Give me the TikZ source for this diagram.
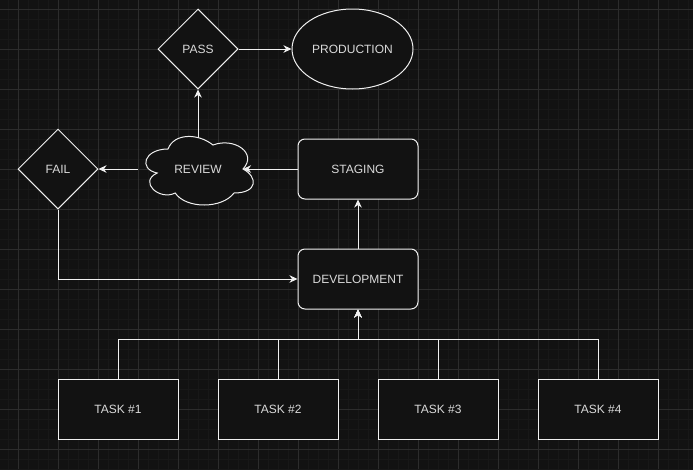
\documentclass[tikz,border=0pt]{standalone}
\usepackage{fontspec}
\setmainfont{Liberation Sans}
\usetikzlibrary{arrows.meta,shapes.geometric}
\definecolor{bg}{HTML}{121212}
\definecolor{gridminor}{HTML}{181818}
\definecolor{gridmajor}{HTML}{2C2C2C}
\definecolor{strokec}{HTML}{F0F0F0}
\definecolor{textc}{HTML}{DADADA}
\tikzset{
  base/.style={draw=strokec, line width=1pt, fill=bg, text=textc, inner sep=0pt, font=\fontsize{12}{14}\selectfont},
  box/.style={base, rectangle, minimum width=120pt, minimum height=60pt},
  rbox/.style={box, rounded corners=7pt},
  dia/.style={base, diamond, minimum width=80pt, minimum height=80pt},
  ell/.style={base, ellipse, minimum width=121pt, minimum height=80pt},
  txt/.style={text=textc, inner sep=0pt, font=\fontsize{12}{14}\selectfont},
  conn/.style={draw=strokec, line width=1pt},
  arr/.style={conn, -{Stealth[length=8pt,width=7.5pt,inset=2.5pt]}},
}
\begin{document}
\begin{tikzpicture}[x=1pt,y=-1pt]
\useasboundingbox (0,0) rectangle (693,469);
\fill[bg] (0,0) rectangle (693,469);
\foreach \x in {8,18,...,688} \draw[gridminor, line width=0.7pt] (\x,0) -- (\x,469);
\foreach \y in {9,19,...,469} \draw[gridminor, line width=0.7pt] (0,\y) -- (693,\y);
\foreach \x in {18,58,...,658} \draw[gridmajor, line width=0.9pt] (\x,0) -- (\x,469);
\foreach \y in {9,49,...,449} \draw[gridmajor, line width=0.9pt] (0,\y) -- (693,\y);

% nodes
\node[dia] (pass) at (198,49) {PASS};
\node[ell] (prod) at (352.5,49) {PRODUCTION};
\node[dia] (fail) at (58,169) {FAIL};
\node[rbox] (staging) at (358,169) {STAGING};
\node[rbox] (dev) at (358,279) {DEVELOPMENT};
\node[box] (t1) at (118,409) {TASK \#1};
\node[box] (t2) at (278,409) {TASK \#2};
\node[box] (t3) at (438,409) {TASK \#3};
\node[box] (t4) at (598,409) {TASK \#4};

% cloud
\draw[conn, fill=bg] (168,149)
  .. controls (144,149) and (138,169) .. (157.2,173)
  .. controls (138,181.8) and (159.6,201) .. (175.2,193)
  .. controls (186,209) and (222,209) .. (234,193)
  .. controls (258,193) and (258,177) .. (243,169)
  .. controls (258,153) and (234,137) .. (213,145)
  .. controls (198,133) and (174,133) .. (168,149) -- cycle;
\node[txt] (review) at (198,169) {REVIEW};
\coordinate (reviewE) at (243,169);
\coordinate (reviewW) at (138,169);
\coordinate (reviewN) at (198,137.5);

% connectors
\draw[arr] (pass.east) -- (prod.west);
\draw[arr] (reviewN) -- (pass.south);
\draw[arr] (reviewW) -- (fail.east);
\draw[arr] (staging.west) -- (reviewE);
\draw[arr] (dev.north) -- (staging.south);
\draw[arr] (fail.south) |- (dev.west);
\coordinate (bus) at (358,339);
\draw[arr] (t1.north) |- (bus) -- (dev.south);
\draw[arr] (t2.north) |- (bus) -- (dev.south);
\draw[arr] (t3.north) |- (bus) -- (dev.south);
\draw[arr] (t4.north) |- (bus) -- (dev.south);
\end{tikzpicture}
\end{document}
